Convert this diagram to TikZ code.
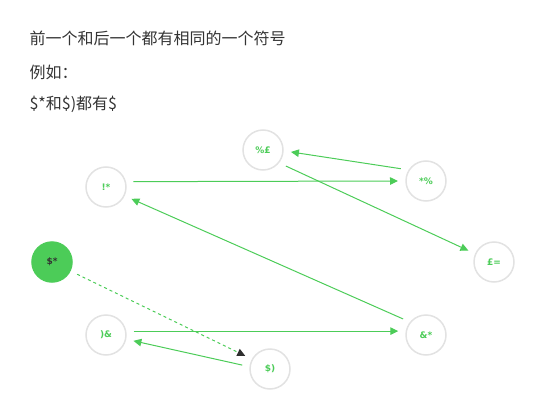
\documentclass[tikz,border=0pt]{standalone}
\usepackage{fontspec}
\setmainfont{Liberation Sans}
\newfontfamily\cjk{Noto Sans CJK SC}
\newfontfamily\symfont{DejaVu Sans}
\usetikzlibrary{arrows.meta}
\definecolor{symgreen}{RGB}{76,204,88}
\definecolor{ringgray}{RGB}{226,226,226}
\definecolor{txtgray}{RGB}{51,51,51}

\begin{document}
\begin{tikzpicture}[x=1pt,y=-1pt,
  sym/.style={circle,draw=ringgray,line width=1.5pt,fill=white,minimum size=40pt,
    inner sep=0pt,outer sep=8pt,font=\symfont\bfseries\fontsize{9}{9}\selectfont,text=symgreen},
  arr/.style={draw=symgreen,line width=1pt,-{Triangle[length=8pt,width=7.5pt]}},
  line/.style={anchor=west,font=\cjk\fontsize{16}{20}\selectfont,text=txtgray}]
\useasboundingbox (0,0) rectangle (546,420);

%question
\node[line] (q1) at (26,38) {前一个和后一个都有相同的一个符号};
\node[line] (q2) at (26,72) {例如：};
\node[line] (q3) at (26,104) {\$*和\$)都有\$};

%symbols
\node[sym] (pctpd) at (263,150) {\%£};
\node[sym] (bang) at (106,187) {!*};
\node[sym] (stpct) at (426,181) {*\%};
\node[sym] (pdeq) at (494,262) {£=};
\node[sym,draw=symgreen,fill=symgreen,text=txtgray] (dstar) at (52,262) {\$*};
\node[sym] (ramp) at (106,335) {)\&};
\node[sym] (amst) at (426,335) {\&*};
\node[sym] (dpar) at (270,369) {\$)};

%links
\draw[arr] (bang.11) -- (stpct.180);
\draw[arr] (stpct.154) -- (pctpd.356);
\draw[arr] (pctpd.325) -- (pdeq.156);
\draw[arr] (amst.145) -- (bang.335);
\draw[arr] (ramp.8) -- (amst.172);
\draw[arr] (dpar.172) -- (ramp.348);

%start
\draw[draw=symgreen,line width=1pt,dash pattern=on 3pt off 3pt,
  -{Triangle[length=8pt,width=7.5pt,color=txtgray!90!black]}] (dstar.334) -- (dpar.152);
\end{tikzpicture}
\end{document}
